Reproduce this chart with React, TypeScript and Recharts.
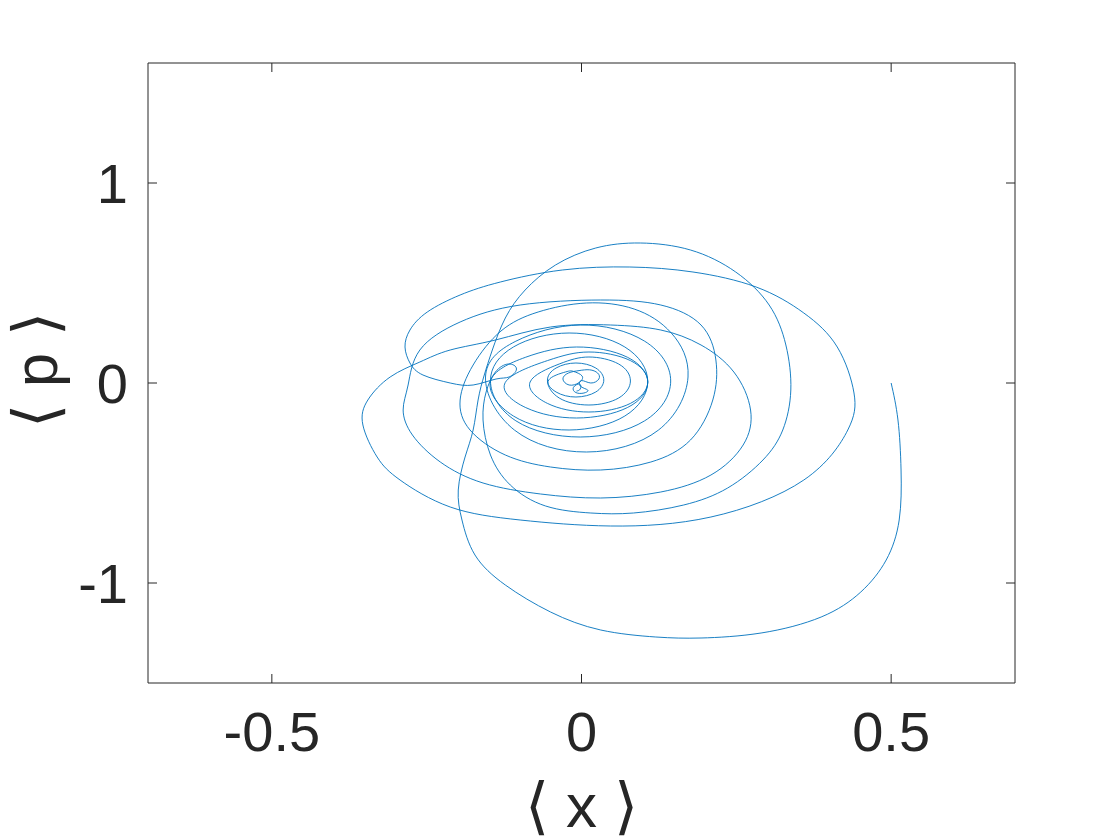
import { LineChart, Line, XAxis, YAxis } from 'recharts';

// phase-space trajectory <x>, <p> in pieces
const dropLoop: [number, number][] = [
  [0.5, 0], [0.511, -0.185], [0.516, -0.435], [0.513, -0.685], [0.492, -0.885],
  [0.451, -1.045], [0.387, -1.17], [0.29, -1.25], [0.193, -1.275], [0.12, -1.27],
  [0.031, -1.235], [-0.05, -1.145], [-0.123, -1.01], [-0.172, -0.86], [-0.193, -0.685],
  [-0.199, -0.535], [-0.188, -0.37], [-0.175, -0.235], [-0.167, -0.085], [-0.157, 0.04],
  [-0.144, 0.165], [-0.123, 0.325], [-0.091, 0.465], [-0.042, 0.59], [0.023, 0.675],
];

const upperLoop: [number, number][] = [
  [0.095, 0.7], [0.176, 0.665], [0.249, 0.555], [0.303, 0.39], [0.33, 0.19],
  [0.338, -0.035], [0.325, -0.235], [0.293, -0.385], [0.236, -0.525], [0.165, -0.61],
  [0.084, -0.65], [0.015, -0.65], [-0.058, -0.615], [-0.115, -0.51], [-0.147, -0.36],
  [-0.159, -0.185], [-0.154, -0.045], [-0.139, 0.055], [-0.118, 0.095], [-0.105, 0.07],
  [-0.117, 0.03], [-0.138, 0.02],
];

const lobeAndOuter: [number, number][] = [
  [-0.175, -0.01], [-0.212, 0], [-0.256, 0.04], [-0.277, 0.1], [-0.285, 0.18],
  [-0.277, 0.265], [-0.249, 0.355], [-0.196, 0.44], [-0.131, 0.505], [-0.031, 0.565],
  [0.078, 0.58], [0.18, 0.555], [0.282, 0.48], [0.359, 0.35], [0.413, 0.18],
  [0.44, -0.05], [0.43, -0.235], [0.359, -0.485], [0.209, -0.67], [0.047, -0.715],
  [-0.099, -0.685], [-0.212, -0.62], [-0.293, -0.485], [-0.33, -0.37], [-0.353, -0.21],
  [-0.345, -0.085], [-0.309, 0.03], [-0.261, 0.105], [-0.212, 0.165], [-0.139, 0.215],
];

const leftSwing: [number, number][] = [
  [-0.05, 0.28], [0.047, 0.29], [0.128, 0.265], [0.193, 0.19], [0.246, 0.055],
  [0.273, -0.135], [0.261, -0.31], [0.209, -0.46], [0.128, -0.545], [0.031, -0.575],
  [-0.066, -0.555], [-0.159, -0.5], [-0.228, -0.395], [-0.273, -0.26], [-0.288, -0.135],
  [-0.28, -0.01], [-0.261, 0.165], [-0.196, 0.305], [-0.099, 0.39], [0.031, 0.415],
];

// rings sharing a left edge near x = -0.15, spreading out to the right
const innerRings: [number, number][] = [
  [0.128, 0.39], [0.193, 0.29], [0.217, 0.115], [0.212, -0.085], [0.176, -0.285],
  [0.112, -0.395], [0.031, -0.435], [-0.05, -0.42], [-0.123, -0.36], [-0.18, -0.235],
  [-0.196, -0.085], [-0.175, 0.09], [-0.13, 0.26],
  [-0.07, 0.355], [0.008, 0.4], [0.085, 0.37], [0.145, 0.25], [0.172, 0.03], [0.124, -0.236],
  [0.008, -0.345], [-0.108, -0.236], [-0.155, 0.03],
  [-0.106, 0.209], [-0.002, 0.29], [0.102, 0.209], [0.144, 0.01], [0.102, -0.189],
  [-0.002, -0.27], [-0.106, -0.189], [-0.147, 0.01],
  [-0.11, 0.18], [-0.02, 0.25], [0.07, 0.18], [0.107, 0.008], [0.07, -0.165],
  [-0.02, -0.235], [-0.11, -0.165], [-0.147, 0.008],
  [-0.09, 0.129], [-0.008, 0.18], [0.074, 0.129], [0.107, 0.003], [0.074, -0.123],
  [-0.008, -0.175], [-0.09, -0.123], [-0.123, 0.003],
  [-0.055, 0.112], [0.012, 0.155], [0.079, 0.112], [0.107, 0.005], [0.079, -0.102],
  [0.012, -0.145], [-0.055, -0.102], [-0.083, 0.005],
  [-0.036, 0.095], [0.012, 0.13], [0.06, 0.095], [0.079, 0.01], [0.06, -0.075],
  [0.012, -0.11], [-0.036, -0.075], [-0.055, 0.01],
  [-0.041, 0.075], [-0.009, 0.1], [0.023, 0.075], [0.036, 0.015], [0.023, -0.045],
  [-0.009, -0.07], [-0.041, -0.045], [-0.053, 0.015], [-0.026, 0.055],
];

const core: [number, number][] = [
  [-0.013, 0.058], [0.001, 0.035], [-0.004, 0.002], [-0.02, -0.01], [-0.03, 0.02],
  [-0.021, 0.05], [-0.004, 0.062], [0.013, 0.066], [0.026, 0.05], [0.028, 0.02],
  [0.015, 0.0], [0.0, 0.012], [-0.002, -0.015], [0.01, -0.035], [0.004, -0.05],
  [-0.009, -0.048], [-0.013, -0.022], [-0.003, -0.005], [-0.002, -0.03], [-0.008, -0.04],
];

const xTicks = [-0.5, 0, 0.5];
const pTicks = [-1, 0, 1];

const trajectory = [...dropLoop, ...upperLoop, ...lobeAndOuter, ...leftSwing, ...innerRings, ...core].map(
  ([x, p]) => ({ x, p })
);

const axisColor = '#262626';
const font = '"Liberation Sans", Arial, Helvetica, sans-serif';

const XLabel = (props: any) => {
  const vb = props.viewBox || { x: 148, y: 683, width: 867 };
  return (
    <text x={vb.x + vb.width / 2} y={vb.y + 144} textAnchor="middle" fontSize={62} fill={axisColor} fontFamily={font}>
      ⟨ x ⟩
    </text>
  );
};

const PLabel = (props: any) => {
  const vb = props.viewBox || { y: 63, height: 620 };
  const cy = vb.y + vb.height / 2 - 3;
  return (
    <text
      x={57}
      y={cy}
      transform={`rotate(-90, 57, ${cy})`}
      textAnchor="middle"
      fontSize={62}
      fill={axisColor}
      fontFamily={font}
    >
      ⟨ p ⟩
    </text>
  );
};

const tickStyle = { fill: axisColor, fontSize: 56, fontFamily: font };

export default function App() {
  return (
    <div style={{ position: 'absolute', left: 0, top: 0, width: 1120, height: 840, background: '#fff' }}>
      <LineChart width={1120} height={840} data={trajectory} margin={{ top: 62, right: 104, bottom: 0, left: 0 }}>
        <XAxis
          dataKey="x"
          type="number"
          domain={[-0.7, 0.7]}
          ticks={xTicks}
          height={157}
          tickSize={-9}
          tickMargin={37}
          stroke={axisColor}
          tick={tickStyle}
          tickFormatter={(v: number) => String(v)}
          label={<XLabel />}
        />
        <XAxis
          xAxisId="top"
          dataKey="x"
          orientation="top"
          type="number"
          domain={[-0.7, 0.7]}
          ticks={xTicks}
          height={1}
          tickSize={-9}
          stroke={axisColor}
          tickFormatter={() => ''}
        />
        <YAxis
          dataKey="p"
          type="number"
          domain={[-1.5, 1.6]}
          ticks={pTicks}
          width={148}
          tickSize={-9}
          tickMargin={29}
          stroke={axisColor}
          tick={tickStyle}
          label={<PLabel />}
        />
        <YAxis
          yAxisId="right"
          dataKey="p"
          orientation="right"
          type="number"
          domain={[-1.5, 1.6]}
          ticks={pTicks}
          width={1}
          tickSize={-9}
          stroke={axisColor}
          tickFormatter={() => ''}
        />
        <Line
          xAxisId="top"
          yAxisId="right"
          dataKey="p"
          stroke="none"
          dot={false}
          activeDot={false}
          isAnimationActive={false}
        />
        <Line
          dataKey="p"
          type="natural"
          stroke="#0072BD"
          strokeWidth={0.9}
          dot={false}
          activeDot={false}
          isAnimationActive={false}
        />
      </LineChart>
    </div>
  );
}
